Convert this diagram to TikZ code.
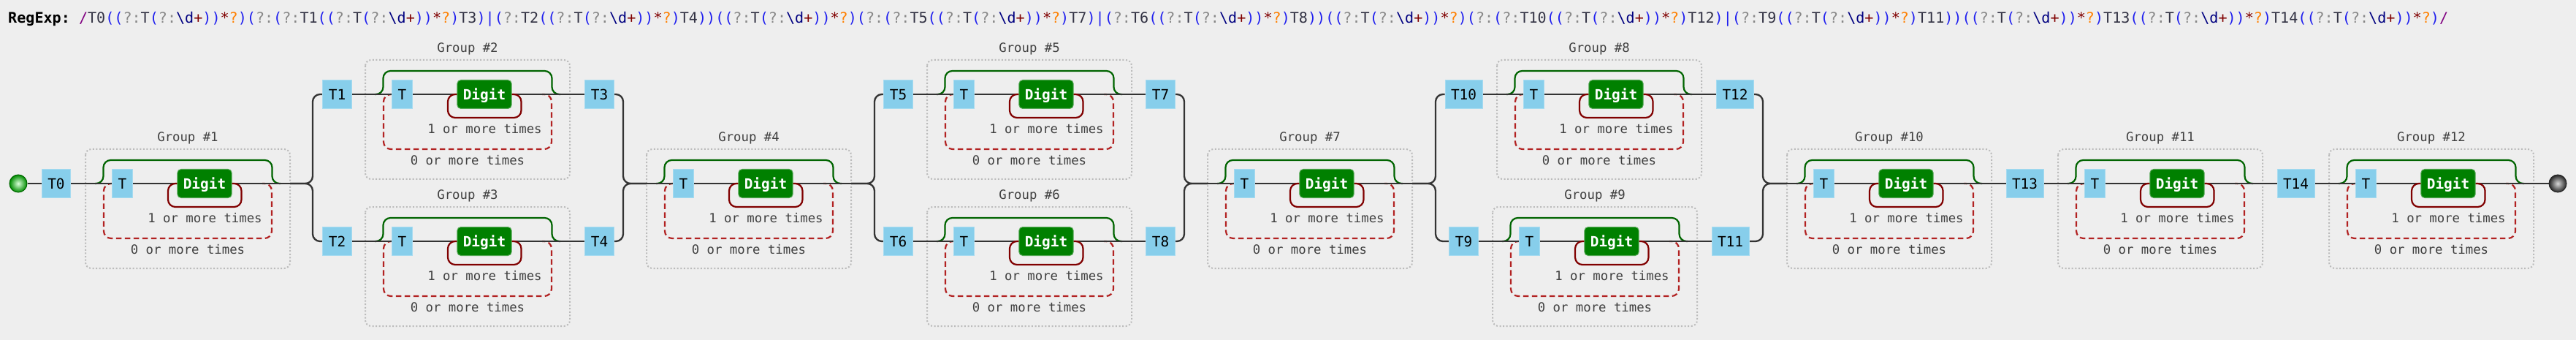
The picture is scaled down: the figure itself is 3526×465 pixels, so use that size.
\documentclass[tikz,border=0pt]{standalone}
\usepackage{fontspec}
\setmainfont{DejaVu Sans}
\setsansfont{DejaVu Sans}
\setmonofont{DejaVu Sans Mono}
\usetikzlibrary{calc}
\definecolor{bgc}{HTML}{EEEEEE}
\definecolor{railc}{HTML}{333333}
\definecolor{litc}{HTML}{87CEEB}
\definecolor{litb}{HTML}{A6DBF0}
\definecolor{digc}{HTML}{008000}
\definecolor{digb}{HTML}{55A855}
\definecolor{lblc}{HTML}{404040}
\definecolor{grpc}{HTML}{BBBBBB}
\definecolor{bracec}{HTML}{006400}
\definecolor{oncec}{HTML}{800000}
\definecolor{zeroc}{HTML}{B22222}
\definecolor{rxpurple}{HTML}{800080}
\definecolor{rxlit}{HTML}{333344}
\definecolor{rxblue}{HTML}{1F1FEE}
\definecolor{rxgray}{HTML}{888888}
\definecolor{rxnavy}{HTML}{000080}
\definecolor{rxmaroon}{HTML}{800000}
\definecolor{rxorange}{HTML}{FF8000}
\pgfdeclarelayer{bg}
\pgfdeclarelayer{lines}
\pgfsetlayers{bg,lines,main}
\newcommand\rxPo{\textcolor{rxblue}{(}}
\newcommand\rxPc{\textcolor{rxblue}{)}}
\newcommand\rxNc{\textcolor{rxgray}{?:}}
\newcommand\rxDg{\textcolor{rxnavy}{\textbackslash d}}
\newcommand\rxPl{\textcolor{rxmaroon}{+}}
\newcommand\rxSt{\textcolor{rxmaroon}{*}}
\newcommand\rxQm{\textcolor{rxorange}{?}}
\newcommand\rxAl{\textcolor{rxblue}{|}}
\newcommand\rxRep{\rxPo\rxPo\rxNc T\rxPo\rxNc\rxDg\rxPl\rxPc\rxPc\rxSt\rxQm\rxPc}
\tikzset{
  rail/.style={draw=railc, line width=2.3pt},
  lit/.style={fill=litc, draw=litb, line width=1pt, inner xsep=8pt, inner ysep=0pt,
    minimum height=39pt, font=\ttfamily\fontsize{19.4}{20}\selectfont,
    text height=14.1pt, text depth=0pt, text=black},
  digit/.style={fill=digc, draw=digb, line width=1pt, rounded corners=5pt, inner xsep=8pt,
    inner ysep=0pt, minimum height=39pt, font=\ttfamily\bfseries\fontsize{19.4}{20}\selectfont,
    text height=14.1pt, text depth=0pt, text=white},
  lbl/.style={font=\ttfamily\fontsize{17.3}{18}\selectfont, text=lblc, inner sep=0pt,
    text height=12.6pt, text depth=0pt},
  grpbox/.style={draw=grpc, line width=2pt, dash pattern=on 2pt off 2.6pt, rounded corners=8pt},
  brace/.style={draw=bracec, line width=2.2pt, rounded corners=10pt},
  once/.style={draw=oncec, line width=2.2pt, rounded corners=10pt},
  zero/.style={draw=zeroc, line width=2.2pt, dash pattern=on 7.5pt off 4.5pt, rounded corners=10pt},
  startc/.style={circle, minimum size=24pt, inner sep=0pt, draw=green!40!black, line width=1pt,
    inner color=green!15, outer color=green!55!black},
  endc/.style={circle, minimum size=24pt, inner sep=0pt, draw=black!85, line width=1pt,
    inner color=white!85!black, outer color=black!85},
}
% group: name, x0, line y, number
\newcommand\rxgroupbox[4]{%
  \begin{pgfonlayer}{bg}
    \draw[grpbox] ({#2},{#3-47}) rectangle ({#2+280},{#3+116});
  \end{pgfonlayer}
  \node[lbl] (#1-label) at ({#2+140},{#3-64}) {Group \##4};
  \node[lbl] (#1-once) at ({#2+163.5},{#3+47}) {1 or more times};
  \node[lbl] (#1-zero) at ({#2+140},{#3+90}) {0 or more times};
  \node[lit] (#1-T) at ({#2+50.5},{#3}) {T};
  \node[digit] (#1-D) at ({#2+163},{#3}) {Digit};
  \coordinate (#1-in) at ({#2},{#3});
  \coordinate (#1-out) at ({#2+280},{#3});
  \begin{pgfonlayer}{lines}
    \draw[brace] ({#2+13},{#3}) -- ({#2+24.5},{#3}) -- ({#2+24.5},{#3-32}) -- ({#2+255.5},{#3-32})
      -- ({#2+255.5},{#3}) -- ({#2+267},{#3});
    \draw[zero] ({#2+38},{#3}) -- ({#2+25},{#3}) -- ({#2+25},{#3+75}) -- ({#2+255},{#3+75})
      -- ({#2+255},{#3}) -- ({#2+242},{#3});
    \draw[rail] (#1-in) -- (#1-T) -- (#1-D) -- (#1-out);
    \draw[once] ({#2+127},{#3}) -- ({#2+113},{#3}) -- ({#2+113},{#3+32}) -- ({#2+213.5},{#3+32})
      -- ({#2+213.5},{#3}) -- ({#2+199},{#3});
  \end{pgfonlayer}
}
\begin{document}
\begin{tikzpicture}[x=1pt,y=-1pt]
\begin{pgfonlayer}{bg}
  \fill[bgc] (0,0) rectangle (3526,465);
\end{pgfonlayer}
\useasboundingbox (0,0) rectangle (3526,465);

\node[anchor=base west, inner sep=0pt, text=rxlit, font=\ttfamily\fontsize{20.1}{22}\selectfont] (rxtext) at (11,32)
{\textcolor{black}{\bfseries RegExp:} \textcolor{rxpurple}{/}T0\rxRep\rxPo\rxNc\rxPo\rxNc T1\rxRep T3\rxPc\rxAl\rxPo\rxNc T2\rxRep T4\rxPc\rxPc\rxRep\rxPo\rxNc\rxPo\rxNc T5\rxRep T7\rxPc\rxAl\rxPo\rxNc T6\rxRep T8\rxPc\rxPc\rxRep\rxPo\rxNc\rxPo\rxNc T10\rxRep T12\rxPc\rxAl\rxPo\rxNc T9\rxRep T11\rxPc\rxPc\rxRep T13\rxRep T14\rxRep\textcolor{rxpurple}{/}};

\rxgroupbox{G1}{117}{251}{1}
\rxgroupbox{G2}{500}{129}{2}
\rxgroupbox{G3}{500}{330}{3}
\rxgroupbox{G4}{885}{251}{4}
\rxgroupbox{G5}{1269}{129}{5}
\rxgroupbox{G6}{1269}{330}{6}
\rxgroupbox{G7}{1653}{251}{7}
\rxgroupbox{G8}{2049}{129}{8}
\rxgroupbox{G9}{2043}{330}{9}
\rxgroupbox{G10}{2446}{251}{10}
\rxgroupbox{G11}{2817}{251}{11}
\rxgroupbox{G12}{3188}{251}{12}

\node[startc] (start) at (25,251) {};
\node[endc] (end) at (3501,251) {};
\node[lit] (T0) at (77,251) {T0};
\node[lit] (T1) at (461.5,129) {T1};
\node[lit] (T2) at (461.5,330) {T2};
\node[lit] (T3) at (820.5,129) {T3};
\node[lit] (T4) at (820.5,330) {T4};
\node[lit] (T5) at (1229.5,129) {T5};
\node[lit] (T6) at (1229.5,330) {T6};
\node[lit] (T7) at (1588.5,129) {T7};
\node[lit] (T8) at (1588.5,330) {T8};
\node[lit] (T10) at (2003.5,129) {T10};
\node[lit] (T9) at (2003.5,330) {T9};
\node[lit] (T12) at (2375,129) {T12};
\node[lit] (T11) at (2368.5,330) {T11};
\node[lit] (T13) at (2771.5,251) {T13};
\node[lit] (T14) at (3142.5,251) {T14};
\coordinate (A1l) at (428,251);
\coordinate (A1r) at (853,251);
\coordinate (A2l) at (1197,251);
\coordinate (A2r) at (1621,251);
\coordinate (A3l) at (1965,251);
\coordinate (A3r) at (2413,251);

\begin{pgfonlayer}{lines}
  \draw[rail] (start) -- (T0) -- (G1-in);
  % alternation 1
  \draw[rail, rounded corners=10pt] (G1-out) -- (A1l) |- (T1);
  \draw[rail, rounded corners=10pt] (G1-out) -- (A1l) |- (T2);
  \draw[rail] (T1) -- (G2-in) (G2-out) -- (T3);
  \draw[rail] (T2) -- (G3-in) (G3-out) -- (T4);
  \draw[rail, rounded corners=10pt] (T3) -| (A1r) -- (G4-in);
  \draw[rail, rounded corners=10pt] (T4) -| (A1r) -- (G4-in);
  % alternation 2
  \draw[rail, rounded corners=10pt] (G4-out) -- (A2l) |- (T5);
  \draw[rail, rounded corners=10pt] (G4-out) -- (A2l) |- (T6);
  \draw[rail] (T5) -- (G5-in) (G5-out) -- (T7);
  \draw[rail] (T6) -- (G6-in) (G6-out) -- (T8);
  \draw[rail, rounded corners=10pt] (T7) -| (A2r) -- (G7-in);
  \draw[rail, rounded corners=10pt] (T8) -| (A2r) -- (G7-in);
  % alternation 3
  \draw[rail, rounded corners=10pt] (G7-out) -- (A3l) |- (T10);
  \draw[rail, rounded corners=10pt] (G7-out) -- (A3l) |- (T9);
  \draw[rail] (T10) -- (G8-in) (G8-out) -- (T12);
  \draw[rail] (T9) -- (G9-in) (G9-out) -- (T11);
  \draw[rail, rounded corners=10pt] (T12) -| (A3r) -- (G10-in);
  \draw[rail, rounded corners=10pt] (T11) -| (A3r) -- (G10-in);
  % tail
  \draw[rail] (G10-out) -- (T13) -- (G11-in);
  \draw[rail] (G11-out) -- (T14) -- (G12-in);
  \draw[rail] (G12-out) -- (end);
\end{pgfonlayer}
\end{tikzpicture}
\end{document}
